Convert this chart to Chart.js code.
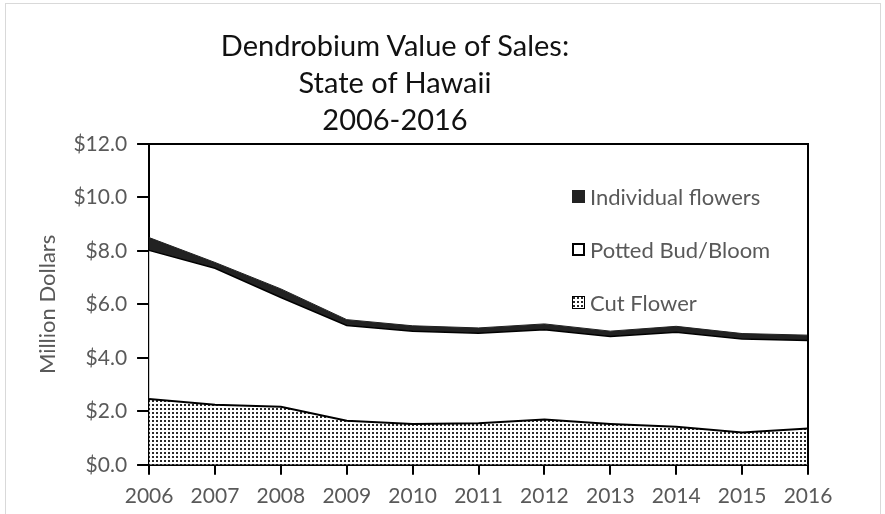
<!DOCTYPE html>
<html>
<head>
<meta charset="utf-8">
<script src="https://cdn.jsdelivr.net/npm/chart.js@4"></script>
<style>
  body { margin: 0; background: #fff; font-family: Lato, "Open Sans", sans-serif; }
  #wrap { position: relative; width: 885px; height: 514px; overflow: hidden; }
  #frame { position: absolute; left: 5px; top: 3px; width: 876px; height: 530px; border: 1px solid #d9d9d9; box-sizing: border-box; }
  #title { position: absolute; left: 0; top: 26px; width: 790px; text-align: center; font-size: 29px; line-height: 37px; color: #111; }
  #legend { position: absolute; left: 572px; top: 183px; }
  .item { display: flex; align-items: center; height: 26px; margin-top: 27px; font-size: 22px; color: #595959; }
  .item:first-child { margin-top: 0; }
  .box { width: 13px; height: 13px; box-sizing: border-box; margin-right: 5px; }
  canvas { position: absolute; left: 0; top: 0; }
</style>
</head>
<body>
<div id="wrap">
  <div id="frame"></div>
  <canvas id="salesChart" width="885" height="514"></canvas>
  <div id="title">Dendrobium Value of Sales:<br>State of Hawaii<br>2006-2016</div>
  <div id="legend"></div>
</div>
<script>
// data (million dollars)
const years = ["2006", "2007", "2008", "2009", "2010", "2011", "2012", "2013", "2014", "2015", "2016"];
const cutFlower = [2.46, 2.25, 2.17, 1.65, 1.53, 1.55, 1.69, 1.53, 1.42, 1.21, 1.36];
const pottedBudBloom = [5.56, 5.10, 4.09, 3.56, 3.47, 3.37, 3.36, 3.27, 3.54, 3.50, 3.29];
const individualFlowers = [0.48, 0.22, 0.32, 0.22, 0.20, 0.20, 0.22, 0.20, 0.22, 0.20, 0.20];
const yTickLabels = ["$0.0", "$2.0", "$4.0", "$6.0", "$8.0", "$10.0", "$12.0"];

// dotted fill for the cut flower area
function dotPattern() {
  const c = document.createElement("canvas");
  c.width = 4;
  c.height = 4;
  const g = c.getContext("2d");
  g.fillStyle = "#fff";
  g.fillRect(0, 0, 4, 4);
  g.fillStyle = "#2a2a2a";
  g.fillRect(0, 0, 2, 2);
  return c;
}
const dots = dotPattern();
const ctx = document.getElementById("salesChart");
const dotFill = ctx.getContext("2d").createPattern(dots, "repeat");

// top and right edges of the plot box
const plotFrame = {
  id: "plotFrame",
  afterDatasetsDraw(chart) {
    const a = chart.chartArea;
    const g = chart.ctx;
    g.save();
    g.strokeStyle = "#000";
    g.lineWidth = 2;
    g.beginPath();
    g.moveTo(a.left - 8, a.top);
    g.lineTo(a.right, a.top);
    g.lineTo(a.right, a.bottom);
    g.stroke();
    g.restore();
  },
};

const chart = new Chart(ctx, {
  type: "line",
  data: {
    labels: years,
    datasets: [
      {
        label: "Cut Flower",
        data: cutFlower,
        backgroundColor: dotFill,
        borderColor: "#000",
        borderWidth: 2,
        fill: "origin",
      },
      {
        label: "Potted Bud/Bloom",
        data: pottedBudBloom,
        backgroundColor: "#fff",
        borderColor: "#000",
        borderWidth: 1.5,
        fill: "-1",
      },
      {
        label: "Individual flowers",
        data: individualFlowers,
        backgroundColor: "#222",
        borderColor: "#222",
        borderWidth: 1,
        fill: "-1",
      },
    ],
  },
  options: {
    responsive: false,
    animation: false,
    elements: { point: { radius: 0 }, line: { tension: 0 } },
    layout: { padding: { top: 144, right: 77, bottom: -4, left: 33 } },
    plugins: { legend: { display: false }, tooltip: { enabled: false } },
    scales: {
      x: {
        offset: false,
        grid: { drawOnChartArea: false, tickLength: 10, color: "#000", lineWidth: 2 },
        border: { color: "#000", width: 2 },
        ticks: { color: "#595959", font: { family: "Lato", size: 21 }, padding: 9, maxRotation: 0 },
      },
      y: {
        stacked: true,
        min: 0,
        max: 12,
        grid: { drawOnChartArea: false, tickLength: 12, color: "#000", lineWidth: 2 },
        border: { color: "#000", width: 2 },
        ticks: {
          stepSize: 2,
          color: "#595959",
          font: { family: "Lato", size: 21 },
          padding: 10,
          callback: (v, i) => yTickLabels[i],
        },
        title: {
          display: true,
          text: "Million Dollars",
          color: "#595959",
          font: { family: "Lato", size: 22 },
          padding: { top: 2, bottom: 2 },
        },
      },
    },
  },
  plugins: [plotFrame],
});

// legend inside the plot, top entry first
const legend = document.getElementById("legend");
chart.data.datasets.slice().reverse().forEach(function (ds) {
  const row = document.createElement("div");
  row.className = "item";
  const box = document.createElement("span");
  box.className = "box";
  if (ds.label === "Cut Flower") {
    box.style.border = "1px solid #000";
    box.style.backgroundImage = "url(" + dots.toDataURL() + ")";
  } else if (ds.label === "Potted Bud/Bloom") {
    box.style.border = "2px solid #000";
    box.style.background = "#fff";
  } else {
    box.style.background = "#222";
  }
  row.appendChild(box);
  row.appendChild(document.createTextNode(ds.label));
  legend.appendChild(row);
});
</script>
</body>
</html>
